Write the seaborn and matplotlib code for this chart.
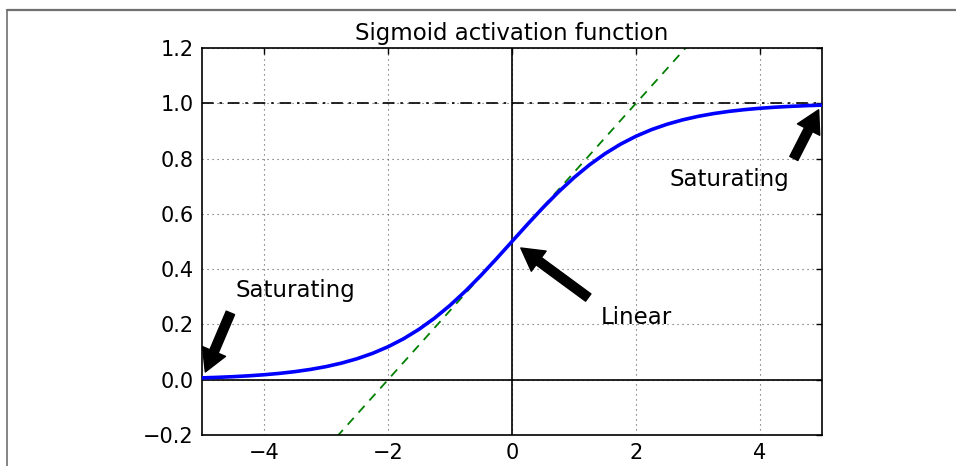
import matplotlib
matplotlib.use("Agg")
import matplotlib.pyplot as plt
from matplotlib.lines import Line2D
import seaborn as sns
import pandas as pd

# ---- data ----
z_values = [-5.0, -4.75, -4.5, -4.25, -4.0, -3.75, -3.5, -3.25, -3.0, -2.75,
            -2.5, -2.25, -2.0, -1.75, -1.5, -1.25, -1.0, -0.75, -0.5, -0.25,
            0.0, 0.25, 0.5, 0.75, 1.0, 1.25, 1.5, 1.75, 2.0, 2.25,
            2.5, 2.75, 3.0, 3.25, 3.5, 3.75, 4.0, 4.25, 4.5, 4.75, 5.0]
sigmoid_values = [0.0067, 0.0086, 0.0110, 0.0141, 0.0180, 0.0230, 0.0293, 0.0373, 0.0474, 0.0601,
                  0.0759, 0.0953, 0.1192, 0.1480, 0.1824, 0.2227, 0.2689, 0.3208, 0.3775, 0.4378,
                  0.5000, 0.5622, 0.6225, 0.6792, 0.7311, 0.7773, 0.8176, 0.8520, 0.8808, 0.9047,
                  0.9241, 0.9399, 0.9526, 0.9627, 0.9707, 0.9770, 0.9820, 0.9859, 0.9890, 0.9914, 0.9933]
linear_z = [-3.0, 3.0]
linear_values = [-0.25, 1.25]
x_ticks = [-4, -2, 0, 2, 4]
y_ticks = [-0.2, 0.0, 0.2, 0.4, 0.6, 0.8, 1.0, 1.2]
title = "Sigmoid activation function"
annotations = [("Saturating", (3.5, 0.7), (5, 1)),
               ("Saturating", (-3.5, 0.3), (-5, 0)),
               ("Linear", (2, 0.2), (0, 0.5))]

sns.set_theme(style="white")
plt.rcParams["font.family"] = ["DejaVu Sans"]
plt.rcParams.update({
    "xtick.direction": "in", "ytick.direction": "in",
    "xtick.top": True, "ytick.right": True,
    "xtick.major.size": 4, "ytick.major.size": 4,
    "xtick.major.width": 1, "ytick.major.width": 1,
    "xtick.color": "black", "ytick.color": "black",
    "axes.edgecolor": "black", "axes.linewidth": 1.2,
    "text.color": "black", "axes.labelcolor": "black",
    "axes.titlecolor": "black",
})

fig = plt.figure(figsize=(9.56, 4.66), dpi=100)
ax = fig.add_axes([0.2113, 0.0665, 0.6485, 0.8305])

df_sig = pd.DataFrame({"z": z_values, "s": sigmoid_values})
df_lin = pd.DataFrame({"z": linear_z, "s": linear_values})

ax.axhline(0, color="black", lw=1.2, zorder=1)
ax.axhline(1, color="black", lw=1.2, ls=(0, (7, 3.5, 1.5, 3.5)), zorder=1)
ax.axvline(0, color="black", lw=1.2, zorder=1)
sns.lineplot(data=df_lin, x="z", y="s", ax=ax, color="green", lw=1.3,
             dashes=False, linestyle=(0, (5, 4)), zorder=2)
sns.lineplot(data=df_sig, x="z", y="s", ax=ax, color="blue", lw=2.6, zorder=3)

props = dict(facecolor="black", edgecolor="black", shrink=0.1, width=6.5, headwidth=18, headlength=16)
for txt, xytext, xy in annotations:
    ax.annotate(txt, xytext=xytext, xy=xy, arrowprops=props, fontsize=16.5,
                ha="center", color="black")

ax.grid(True, color="#555555", linestyle=(0, (1, 3.5)), linewidth=0.8)
ax.set_axisbelow(True)
ax.set_xlim(-5, 5)
ax.set_ylim(-0.2, 1.2)
ax.set_xticks(x_ticks)
ax.set_yticks(y_ticks)
ax.set_xticklabels(["\u2212" + str(-t) if t < 0 else str(t) for t in x_ticks])
ax.set_yticklabels([("\u2212%.1f" % -t) if t < 0 else "%.1f" % t for t in y_ticks])
ax.tick_params(labelsize=15, pad=6, colors="black")
ax.set_xlabel("")
ax.set_ylabel("")
ax.set_title(title, fontsize=16.5, pad=6, color="black")

# frame lines of the cropped page
fig.add_artist(Line2D([6.5 / 956, 1.0], [1 - 9.5 / 466, 1 - 9.5 / 466],
                      transform=fig.transFigure, color="#707070", lw=1.6))
fig.add_artist(Line2D([6.5 / 956, 6.5 / 956], [0, 1 - 9.5 / 466],
                      transform=fig.transFigure, color="#707070", lw=1.2))

fig.savefig("out.png", dpi=100)
